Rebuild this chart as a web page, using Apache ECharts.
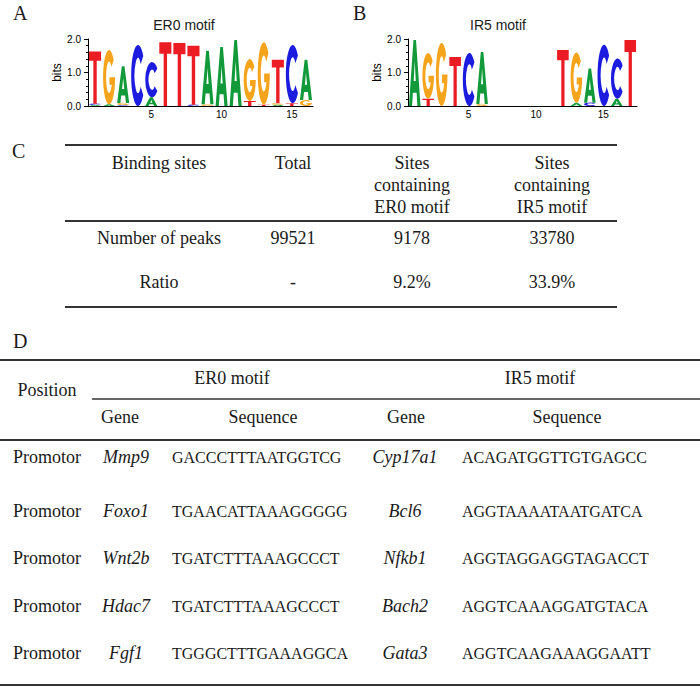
<!DOCTYPE html>
<html>
<head>
<meta charset="utf-8">
<script src="https://cdn.jsdelivr.net/npm/echarts@6/dist/echarts.min.js"></script>
<style>
html,body{margin:0;padding:0;background:#fff;}
#chart{width:700px;height:687px;}
</style>
</head>
<body>
<div id="chart"></div>
<script>
// ---------- DATA ----------
// Sequence logo ER0 motif: letters per position (bottom -> top) and their heights (bits)
const er0Positions = ['1','2','3','4','5','6','7','8','9','10','11','12','13','14','15','16'];
const er0Letters = ['ACT','AG','CGA','C','AC','T','T','CT','GA','A','A','TG','TG','AGT','TC','GA'];
const er0Heights = [
  [0.03,0.04,1.56],[0.05,1.62],[0.03,0.06,1.10],[1.82],[0.26,1.05],[1.90],[1.88],[0.04,1.76],
  [0.05,1.60],[1.76],[1.97],[0.15,1.25],[0.04,1.86],[0.04,0.04,1.30],[0.08,1.74],[0.18,1.20]
];
// Sequence logo IR5 motif
const ir5Positions = ['1','2','3','4','5','6','7','8','9','10','11','12','13','14','15','16','17'];
const ir5Letters = ['A','TG','G','T','C','GA','','','','','','T','AG','CA','C','AC','T'];
const ir5Heights = [
  [1.97],[0.22,1.36],[1.88],[1.46],[1.58],[0.06,1.55],[],[],[],[],[],
  [1.67],[0.10,1.50],[0.10,1.02],[1.83],[0.22,1.20],[1.97]
];
const yTicks = ['0.0','1.0','2.0'];

// Table C
const cHeader = ['Binding sites','Total','Sites\ncontaining\nER0 motif','Sites\ncontaining\nIR5 motif'];
const cRowLabels = ['Number of peaks','Ratio'];
const cTotal = ['99521','-'];
const cEr0 = ['9178','9.2%'];
const cIr5 = ['33780','33.9%'];

// Table D
const dPositions = ['Promotor','Promotor','Promotor','Promotor','Promotor'];
const er0Genes = ['Mmp9','Foxo1','Wnt2b','Hdac7','Fgf1'];
const er0Seqs = ['GACCCTTTAATGGTCG','TGAACATTAAAGGGGG','TGATCTTTAAAGCCCT','TGATCTTTAAAGCCCT','TGGGCTTTGAAAGGCA'];
const ir5Genes = ['Cyp17a1','Bcl6','Nfkb1','Bach2','Gata3'];
const ir5Seqs = ['ACAGATGGTTGTGAGCC','AGGTAAAATAATGATCA','AGGTAGGAGGTAGACCT','AGGTCAAAGGATGTACA','AGGTCAAGAAAGGAATT'];

// ---------- STYLE ----------
const COLORS = {A:'#129a3a', C:'#1c1ce0', G:'#f7a41d', T:'#ec1c24'};
const GLYPH = {
  A:'M0,100 L39,0 L61,0 L100,100 L73,100 L66,80 L34,80 L27,100 Z M41,62 L59,62 L50,32 Z',
  C:'M88.3,17.9 A50,50 0 1 0 88.3,82.1 L69.2,68.6 A25,29 0 1 1 69.2,31.4 Z',
  G:'M88.3,17.9 A50,50 0 1 0 100,50 L53,50 L53,64 L71.9,64 A25,29 0 1 1 69.2,31.4 Z',
  T:'M0,0 L100,0 L100,18 L64,18 L64,100 L36,100 L36,18 L0,18 Z'
};
const SANS = '"Liberation Sans", Arial, sans-serif';
const SERIF = '"Liberation Serif", "Times New Roman", serif';
const INK = '#1a1a1a';
const RULE = '#333';

function logoRender(letters, heights) {
  return function (params, api) {
    const idx = api.value(0);
    const lt = letters[idx], hs = heights[idx];
    const c = api.coord([idx, 0]);
    const band = api.size([1, 0])[0];
    const w = band * 0.86;
    let base = 0;
    const children = [];
    for (let k = 0; k < lt.length; k++) {
      const h = hs[k];
      const y0 = api.coord([idx, base])[1];
      const y1 = api.coord([idx, base + h])[1];
      children.push({
        type: 'path',
        shape: {pathData: GLYPH[lt[k]], x: c[0] - w / 2, y: y1, width: w, height: Math.max(y0 - y1, 0.3), layout: 'cover'},
        style: {fill: COLORS[lt[k]]}
      });
      base += h;
    }
    return {type: 'group', children};
  };
}

function xAxisCfg(gi, cats) {
  return {
    type: 'category', gridIndex: gi, data: cats, boundaryGap: true,
    axisLine: {lineStyle: {color: '#000', width: 1}},
    axisTick: {alignWithLabel: true, interval: 0, length: 3, lineStyle: {color: '#000'}},
    axisLabel: {interval: (i) => (i + 1) % 5 === 0, fontFamily: SANS, fontSize: 10, color: '#000', margin: 3}
  };
}
function yAxisCfg(gi) {
  return {
    type: 'value', gridIndex: gi, min: 0, max: 2, interval: 1,
    name: 'bits', nameLocation: 'middle', nameGap: 22,
    nameTextStyle: {fontFamily: SANS, fontSize: 12, color: '#000'},
    axisLine: {show: true, lineStyle: {color: '#000', width: 1}},
    axisTick: {show: true, length: 4, lineStyle: {color: '#000'}},
    minorTick: {show: true, splitNumber: 5, length: 2, lineStyle: {color: '#000'}},
    splitLine: {show: false},
    axisLabel: {formatter: (v) => yTicks[Math.round(v)], fontFamily: SANS, fontSize: 10, color: '#000', margin: 7}
  };
}

// ---------- GRAPHIC (tables & labels) ----------
const g = [];
function txt(x, y, text, font, align, extra) {
  g.push(Object.assign({
    type: 'text', x: x, y: y, silent: true,
    style: {text: text, font: font, fill: INK, align: align || 'center', verticalAlign: 'middle',
            textAlign: align || 'center', textVerticalAlign: 'middle'}
  }, extra || {}));
}
function rule(x1, x2, y, w) {
  g.push({type: 'line', silent: true, shape: {x1: x1, y1: y, x2: x2, y2: y}, style: {stroke: RULE, lineWidth: w || 2}});
}

// panel letters
txt(13, 13, 'A', '20px ' + SERIF, 'left');
txt(353, 13, 'B', '20px ' + SERIF, 'left');
txt(12, 151, 'C', '20px ' + SERIF, 'left');
txt(13, 341, 'D', '20px ' + SERIF, 'left');
// logo titles
txt(184, 25, 'ER0 motif', '14px ' + SANS);
txt(498, 25, 'IR5 motif', '14px ' + SANS);

// Table C
const cCols = [159, 293, 412, 552];
rule(65, 617, 145);
cHeader.forEach((h, i) => {
  const lines = h.split('\n');
  lines.forEach((ln, j) => txt(cCols[i], 163 + j * 22, ln, '18px ' + SERIF));
});
rule(65, 617, 221);
const cRowY = [238, 282];
cRowLabels.forEach((lab, r) => {
  txt(cCols[0], cRowY[r], lab, '18px ' + SERIF);
  txt(cCols[1], cRowY[r], cTotal[r], '18px ' + SERIF);
  txt(cCols[2], cRowY[r], cEr0[r], '18px ' + SERIF);
  txt(cCols[3], cRowY[r], cIr5[r], '18px ' + SERIF);
});
rule(65, 617, 307);

// Table D
rule(0, 700, 360);
txt(232, 378, 'ER0 motif', '18px ' + SERIF);
txt(540, 378, 'IR5 motif', '18px ' + SERIF);
txt(47, 390, 'Position', '18px ' + SERIF);
rule(92, 700, 399, 1.5);
txt(120, 417, 'Gene', '18px ' + SERIF);
txt(263, 417, 'Sequence', '18px ' + SERIF);
txt(406, 417, 'Gene', '18px ' + SERIF);
txt(567, 417, 'Sequence', '18px ' + SERIF);
rule(0, 700, 440);
const dRowY = [457, 511, 558, 606, 653];
dPositions.forEach((p, r) => {
  txt(47, dRowY[r], p, '18px ' + SERIF);
  txt(126, dRowY[r], er0Genes[r], 'italic 18px ' + SERIF);
  txt(172, dRowY[r], er0Seqs[r], '16px ' + SERIF, 'left');
  txt(405, dRowY[r], ir5Genes[r], 'italic 18px ' + SERIF);
  txt(462, dRowY[r], ir5Seqs[r], '16px ' + SERIF, 'left');
});
rule(0, 700, 685);

// ---------- CHART ----------
const chart = echarts.init(document.getElementById('chart'), null, {renderer: 'svg'});
chart.setOption({
  animation: false,
  backgroundColor: '#fff',
  grid: [
    {left: 88, top: 39, width: 225, height: 67, containLabel: false, outerBoundsMode: 'none'},
    {left: 408, top: 39, width: 229, height: 67, containLabel: false, outerBoundsMode: 'none'}
  ],
  xAxis: [xAxisCfg(0, er0Positions), xAxisCfg(1, ir5Positions)],
  yAxis: [yAxisCfg(0), yAxisCfg(1)],
  series: [
    {type: 'custom', xAxisIndex: 0, yAxisIndex: 0, clip: false,
     renderItem: logoRender(er0Letters, er0Heights),
     data: er0Positions.map((p, i) => [i, er0Heights[i].reduce((a, b) => a + b, 0)])},
    {type: 'custom', xAxisIndex: 1, yAxisIndex: 1, clip: false,
     renderItem: logoRender(ir5Letters, ir5Heights),
     data: ir5Positions.map((p, i) => [i, ir5Heights[i].reduce((a, b) => a + b, 0)])}
  ],
  graphic: {elements: g}
});
</script>
</body>
</html>
